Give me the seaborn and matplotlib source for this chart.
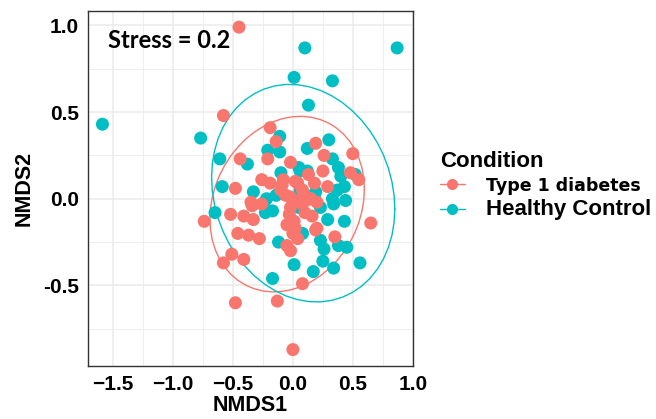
import numpy as np
import pandas as pd
import seaborn as sns
import matplotlib.pyplot as plt
from matplotlib.lines import Line2D

# NMDS scores
t1d_x = [-0.45, -0.58, -0.19, -0.14, -0.21, -0.44, -0.02, 0.19, 0.50, 0.26, 0.13, 0.25,
         0.48, 0.55, -0.26, -0.19, -0.08, 0.02, 0.04, 0.18, 0.29, -0.48, 0.09, -0.02,
         0.15, -0.35, -0.34, 0.20, 0.11, -0.06, -0.02, -0.03, 0.01, -0.74, -0.52, -0.41,
         -0.33, -0.46, -0.37, -0.28, -0.05, -0.02, 0.04, 0.00, 0.19, 0.16, 0.20, 0.35,
         0.65, -0.58, -0.51, -0.41, 0.08, -0.48, -0.13, 0.00, 0.05, 0.08, -0.05, 0.02,
         0.10, -0.10, -0.09, -0.26]
t1d_y = [0.99, 0.48, 0.41, 0.33, 0.23, 0.23, 0.21, 0.32, 0.26, 0.25, 0.14, 0.16,
         0.15, 0.11, 0.11, 0.09, 0.11, 0.10, 0.09, 0.09, 0.07, 0.06, 0.03, 0.01,
         0.00, -0.02, -0.04, -0.02, -0.01, 0.02, -0.05, -0.09, -0.13, -0.13, -0.09, -0.10,
         -0.12, -0.20, -0.21, -0.23, -0.27, -0.30, -0.23, -0.20, -0.18, -0.10, -0.17, -0.22,
         -0.14, -0.37, -0.32, -0.35, -0.49, -0.60, -0.59, -0.87, -0.02, 0.05, -0.15, -0.17,
         -0.08, 0.05, 0.08, -0.03]

hc_x = [0.10, 0.87, 0.01, 0.33, 0.13, -1.59, -0.77, -0.11, -0.21, -0.11, -0.61, -0.38,
        -0.10, 0.30, 0.12, 0.33, 0.06, 0.40, 0.52, 0.43, 0.33, 0.44, -0.59, -0.33,
        -0.12, -0.24, -0.65, -0.17, -0.12, 0.01, -0.17, 0.17, 0.25, 0.34, 0.56, 0.45,
        0.26, 0.43, 0.29, 0.23, 0.08, 0.34, 0.05, 0.38, 0.37, -0.14, 0.05, 0.23,
        0.19, -0.23, 0.38, 0.12, -0.22, 0.06, 0.18]
hc_y = [0.87, 0.87, 0.70, 0.68, 0.54, 0.43, 0.35, 0.36, 0.28, 0.27, 0.23, 0.20,
        0.15, 0.34, 0.29, 0.23, 0.16, 0.13, 0.14, 0.07, 0.00, -0.01, 0.07, 0.04,
        0.03, -0.02, -0.08, -0.07, -0.25, -0.38, -0.46, -0.42, -0.36, -0.40, -0.37, -0.28,
        -0.29, -0.13, -0.12, -0.24, -0.20, -0.03, 0.18, 0.18, 0.05, 0.02, -0.05, -0.05,
        0.04, -0.08, -0.27, 0.16, 0.00, 0.05, 0.02]

conditions = ["Type 1 diabetes", "Healthy Control"]
colors = {"Type 1 diabetes": "#F8766D", "Healthy Control": "#00BFC4"}
stress = 0.2

x_ticks = [-1.5, -1.0, -0.5, 0.0, 0.5, 1.0]
x_labels = ["\u22121.5", "\u22121.0", "\u22120.5", "0.0", "0.5", "1.0"]
y_ticks = [-0.5, 0.0, 0.5, 1.0]
y_labels = ["-0.5", "0.0", "0.5", "1.0"]

df = pd.concat([
    pd.DataFrame({"NMDS1": hc_x, "NMDS2": hc_y, "Condition": "Healthy Control"}),
    pd.DataFrame({"NMDS1": t1d_x, "NMDS2": t1d_y, "Condition": "Type 1 diabetes"}),
], ignore_index=True)


def cov_trob(xy, nu=5, maxit=25, tol=0.01):
    # same iteration as MASS::cov.trob, used by ggplot's stat_ellipse
    n, p = xy.shape
    loc = xy.mean(axis=0)
    w = np.ones(n)
    for _ in range(maxit):
        w0 = w
        X = xy - loc
        S = (w[:, None] * X).T @ X / w.sum()
        Q = np.einsum("ij,jk,ik->i", X, np.linalg.inv(S), X)
        w = (nu + p) / (nu + Q)
        loc = (w[:, None] * xy).sum(axis=0) / w.sum()
        if np.all(np.abs(w - w0) < tol):
            break
    cov = (w[:, None] * X).T @ X / n
    return loc, cov


def t_ellipse(xy, level=0.95, segments=51):
    center, shape = cov_trob(xy)
    dfd = len(xy) - 1
    f_q = dfd / 2 * ((1 - level) ** (-2 / dfd) - 1)  # qf(level, 2, dfd)
    radius = np.sqrt(2 * f_q)
    ang = np.linspace(0, 2 * np.pi, segments)
    circle = np.column_stack([np.cos(ang), np.sin(ang)])
    return center + radius * circle @ np.linalg.cholesky(shape).T


sns.set_style("white")
plt.rcParams["font.family"] = ["Liberation Sans", "DejaVu Sans"]
plt.rcParams["text.color"] = "black"
plt.rcParams["axes.labelcolor"] = "black"

fig = plt.figure(figsize=(6.56, 4.19), dpi=100)
ax = fig.add_axes([87.7 / 656, 1 - 365.7 / 419, 325 / 656, 354.7 / 419])

sns.scatterplot(data=df, x="NMDS1", y="NMDS2", hue="Condition", palette=colors,
                s=88, linewidth=0, alpha=1, legend=False, ax=ax, zorder=3)

for cond in conditions:
    sub = df[df["Condition"] == cond][["NMDS1", "NMDS2"]].to_numpy()
    ell = t_ellipse(sub)
    ax.plot(ell[:, 0], ell[:, 1], color=colors[cond], lw=1.0, zorder=2)

# ggplot-style 5% expansion of the data range
xr = df["NMDS1"].max() - df["NMDS1"].min()
yr = df["NMDS2"].max() - df["NMDS2"].min()
ax.set_xlim(df["NMDS1"].min() - 0.05 * xr, df["NMDS1"].max() + 0.05 * xr)
ax.set_ylim(df["NMDS2"].min() - 0.05 * yr, df["NMDS2"].max() + 0.05 * yr)

ax.set_xticks(x_ticks, x_labels)
ax.set_yticks(y_ticks, y_labels)
ax.set_xticks([-1.25, -0.75, -0.25, 0.25, 0.75], minor=True)
ax.set_yticks([-0.75, -0.25, 0.25, 0.75], minor=True)
ax.grid(True, which="major", color="#EBEBEB", lw=1.1, zorder=0)
ax.grid(True, which="minor", color="#EBEBEB", lw=0.6, zorder=0)
ax.set_axisbelow(True)
ax.tick_params(which="major", length=3.5, width=0.8, color="#333333", pad=3,
               labelsize=15, labelcolor="black")
ax.tick_params(which="minor", length=0)
for lab in ax.get_xticklabels() + ax.get_yticklabels():
    lab.set_fontweight("bold")
for sp in ax.spines.values():
    sp.set_color("#333333")
    sp.set_linewidth(1.0)

ax.set_xlabel("NMDS1", fontsize=15.5, fontweight="bold", labelpad=1)
ax.set_ylabel("NMDS2", fontsize=15.5, fontweight="bold", labelpad=6)

ax.text(0.062, 0.918, f"Stress = {stress}", transform=ax.transAxes,
        family=["Lato", "DejaVu Sans"], fontsize=17, fontweight="bold",
        ha="left", va="center", color="black")

handles = [Line2D([], [], color=colors[c], marker="o", markersize=7, lw=1.0)
           for c in conditions]
leg = fig.legend(handles, conditions, title="Condition", loc="upper left",
                 bbox_to_anchor=(432 / 656, 1 - 143 / 419), frameon=False,
                 handlelength=1.3, handletextpad=1.1, labelspacing=0.25,
                 borderaxespad=0, fontsize=14)
leg._legend_box.align = "left"
leg.get_title().set_fontsize(16)
leg.get_title().set_fontweight("bold")
leg.get_title().set_color("black")
texts = leg.get_texts()
texts[0].set_family(["DejaVu Sans"])
texts[0].set_fontweight("heavy")
texts[0].set_fontsize(12.5)
texts[1].set_fontsize(16)
texts[1].set_fontweight("bold")
for t in texts:
    t.set_color("black")

fig.savefig("out.png", dpi=100)
